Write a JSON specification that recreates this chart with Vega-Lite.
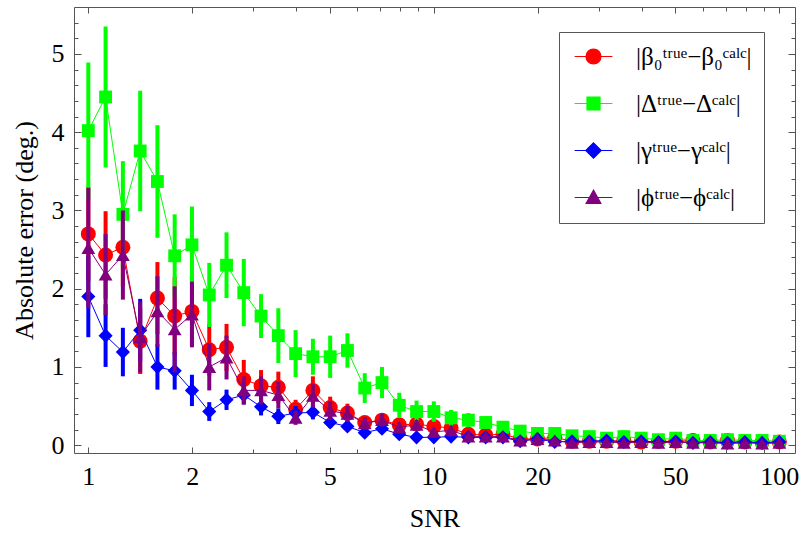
{
"$schema":"https://vega.github.io/schema/vega-lite/v6.json",
"width":721,"height":446,
"autosize":{"type":"none"},
"padding":{"left":74,"top":7,"right":11,"bottom":82},
"background":"white",
"config":{
 "view":{"stroke":"#555","strokeWidth":1},
 "font":"Liberation Serif",
 "axis":{"labelFont":"Liberation Serif","labelFontSize":26,"labelColor":"black","titleFont":"Liberation Serif","titleFontSize":26,"titleFontWeight":"normal","titleColor":"black","tickColor":"#555","tickWidth":1,"domain":false,"grid":false,"labelFlush":false,"labelOverlap":false}
},
"data":{"values":[
{"x":1,"s":"b","v":2.70,"lo":2.10,"hi":3.30},
{"x":1.122,"s":"b","v":2.43,"lo":1.87,"hi":2.99},
{"x":1.259,"s":"b","v":2.53,"lo":2.03,"hi":3.03},
{"x":1.413,"s":"b","v":1.33,"lo":0.91,"hi":1.75},
{"x":1.585,"s":"b","v":1.88,"lo":1.42,"hi":2.34},
{"x":1.778,"s":"b","v":1.65,"lo":1.15,"hi":2.15},
{"x":1.995,"s":"b","v":1.71,"lo":1.26,"hi":2.16},
{"x":2.239,"s":"b","v":1.22,"lo":0.89,"hi":1.55},
{"x":2.512,"s":"b","v":1.25,"lo":0.95,"hi":1.55},
{"x":2.818,"s":"b","v":0.84,"lo":0.59,"hi":1.09},
{"x":3.162,"s":"b","v":0.76,"lo":0.56,"hi":0.96},
{"x":3.548,"s":"b","v":0.74,"lo":0.54,"hi":0.94},
{"x":3.981,"s":"b","v":0.46,"lo":0.34,"hi":0.58},
{"x":4.467,"s":"b","v":0.70,"lo":0.52,"hi":0.88},
{"x":5.012,"s":"b","v":0.48,"lo":0.34,"hi":0.62},
{"x":5.623,"s":"b","v":0.41,"lo":0.29,"hi":0.53},
{"x":6.31,"s":"b","v":0.29,"lo":0.21,"hi":0.37},
{"x":7.079,"s":"b","v":0.32,"lo":0.23,"hi":0.41},
{"x":7.943,"s":"b","v":0.26,"lo":0.19,"hi":0.33},
{"x":8.913,"s":"b","v":0.27,"lo":0.20,"hi":0.34},
{"x":10,"s":"b","v":0.24,"lo":0.18,"hi":0.30},
{"x":11.22,"s":"b","v":0.22,"lo":0.17,"hi":0.27},
{"x":12.59,"s":"b","v":0.14,"lo":0.10,"hi":0.18},
{"x":14.13,"s":"b","v":0.13,"lo":0.09,"hi":0.17},
{"x":15.85,"s":"b","v":0.14,"lo":0.10,"hi":0.18},
{"x":17.78,"s":"b","v":0.08,"lo":0.05,"hi":0.11},
{"x":19.95,"s":"b","v":0.08,"lo":0.05,"hi":0.11},
{"x":22.39,"s":"b","v":0.10,"lo":0.07,"hi":0.13},
{"x":25.12,"s":"b","v":0.05,"lo":0.03,"hi":0.07},
{"x":28.18,"s":"b","v":0.05,"lo":0.03,"hi":0.07},
{"x":31.62,"s":"b","v":0.05,"lo":0.03,"hi":0.07},
{"x":35.48,"s":"b","v":0.06,"lo":0.04,"hi":0.08},
{"x":39.81,"s":"b","v":0.04,"lo":0.02,"hi":0.06},
{"x":44.67,"s":"b","v":0.05,"lo":0.03,"hi":0.07},
{"x":50.12,"s":"b","v":0.05,"lo":0.03,"hi":0.07},
{"x":56.23,"s":"b","v":0.06,"lo":0.04,"hi":0.08},
{"x":63.1,"s":"b","v":0.04,"lo":0.03,"hi":0.05},
{"x":70.79,"s":"b","v":0.06,"lo":0.04,"hi":0.08},
{"x":79.43,"s":"b","v":0.04,"lo":0.03,"hi":0.05},
{"x":89.13,"s":"b","v":0.04,"lo":0.03,"hi":0.05},
{"x":100,"s":"b","v":0.04,"lo":0.03,"hi":0.05},
{"x":1,"s":"d","v":4.02,"lo":3.15,"hi":4.89},
{"x":1.122,"s":"d","v":4.45,"lo":3.55,"hi":5.35},
{"x":1.259,"s":"d","v":2.95,"lo":2.27,"hi":3.63},
{"x":1.413,"s":"d","v":3.76,"lo":2.99,"hi":4.53},
{"x":1.585,"s":"d","v":3.37,"lo":2.65,"hi":4.09},
{"x":1.778,"s":"d","v":2.42,"lo":1.89,"hi":2.95},
{"x":1.995,"s":"d","v":2.56,"lo":2.07,"hi":3.05},
{"x":2.239,"s":"d","v":1.92,"lo":1.51,"hi":2.33},
{"x":2.512,"s":"d","v":2.30,"lo":1.88,"hi":2.72},
{"x":2.818,"s":"d","v":1.95,"lo":1.52,"hi":2.38},
{"x":3.162,"s":"d","v":1.65,"lo":1.37,"hi":1.93},
{"x":3.548,"s":"d","v":1.40,"lo":1.05,"hi":1.75},
{"x":3.981,"s":"d","v":1.17,"lo":0.87,"hi":1.47},
{"x":4.467,"s":"d","v":1.13,"lo":0.90,"hi":1.36},
{"x":5.012,"s":"d","v":1.13,"lo":0.86,"hi":1.40},
{"x":5.623,"s":"d","v":1.21,"lo":0.99,"hi":1.43},
{"x":6.31,"s":"d","v":0.73,"lo":0.54,"hi":0.92},
{"x":7.079,"s":"d","v":0.80,"lo":0.60,"hi":1.00},
{"x":7.943,"s":"d","v":0.51,"lo":0.35,"hi":0.67},
{"x":8.913,"s":"d","v":0.43,"lo":0.29,"hi":0.57},
{"x":10,"s":"d","v":0.43,"lo":0.30,"hi":0.56},
{"x":11.22,"s":"d","v":0.35,"lo":0.25,"hi":0.45},
{"x":12.59,"s":"d","v":0.32,"lo":0.23,"hi":0.41},
{"x":14.13,"s":"d","v":0.29,"lo":0.21,"hi":0.37},
{"x":15.85,"s":"d","v":0.23,"lo":0.17,"hi":0.29},
{"x":17.78,"s":"d","v":0.18,"lo":0.13,"hi":0.23},
{"x":19.95,"s":"d","v":0.15,"lo":0.11,"hi":0.19},
{"x":22.39,"s":"d","v":0.15,"lo":0.11,"hi":0.19},
{"x":25.12,"s":"d","v":0.12,"lo":0.09,"hi":0.15},
{"x":28.18,"s":"d","v":0.11,"lo":0.08,"hi":0.14},
{"x":31.62,"s":"d","v":0.09,"lo":0.06,"hi":0.12},
{"x":35.48,"s":"d","v":0.11,"lo":0.08,"hi":0.14},
{"x":39.81,"s":"d","v":0.09,"lo":0.06,"hi":0.12},
{"x":44.67,"s":"d","v":0.07,"lo":0.05,"hi":0.09},
{"x":50.12,"s":"d","v":0.09,"lo":0.07,"hi":0.11},
{"x":56.23,"s":"d","v":0.06,"lo":0.04,"hi":0.08},
{"x":63.1,"s":"d","v":0.06,"lo":0.04,"hi":0.08},
{"x":70.79,"s":"d","v":0.07,"lo":0.05,"hi":0.09},
{"x":79.43,"s":"d","v":0.06,"lo":0.04,"hi":0.08},
{"x":89.13,"s":"d","v":0.06,"lo":0.04,"hi":0.08},
{"x":100,"s":"d","v":0.05,"lo":0.03,"hi":0.07},
{"x":1,"s":"g","v":1.90,"lo":1.38,"hi":2.42},
{"x":1.122,"s":"g","v":1.40,"lo":1.00,"hi":1.80},
{"x":1.259,"s":"g","v":1.19,"lo":0.88,"hi":1.50},
{"x":1.413,"s":"g","v":1.47,"lo":1.07,"hi":1.87},
{"x":1.585,"s":"g","v":1.00,"lo":0.71,"hi":1.29},
{"x":1.778,"s":"g","v":0.95,"lo":0.71,"hi":1.19},
{"x":1.995,"s":"g","v":0.70,"lo":0.50,"hi":0.90},
{"x":2.239,"s":"g","v":0.43,"lo":0.31,"hi":0.55},
{"x":2.512,"s":"g","v":0.58,"lo":0.45,"hi":0.71},
{"x":2.818,"s":"g","v":0.64,"lo":0.52,"hi":0.76},
{"x":3.162,"s":"g","v":0.49,"lo":0.38,"hi":0.60},
{"x":3.548,"s":"g","v":0.37,"lo":0.27,"hi":0.47},
{"x":3.981,"s":"g","v":0.41,"lo":0.32,"hi":0.50},
{"x":4.467,"s":"g","v":0.42,"lo":0.33,"hi":0.51},
{"x":5.012,"s":"g","v":0.29,"lo":0.22,"hi":0.36},
{"x":5.623,"s":"g","v":0.24,"lo":0.18,"hi":0.30},
{"x":6.31,"s":"g","v":0.16,"lo":0.11,"hi":0.21},
{"x":7.079,"s":"g","v":0.21,"lo":0.16,"hi":0.26},
{"x":7.943,"s":"g","v":0.14,"lo":0.10,"hi":0.18},
{"x":8.913,"s":"g","v":0.10,"lo":0.07,"hi":0.13},
{"x":10,"s":"g","v":0.10,"lo":0.07,"hi":0.13},
{"x":11.22,"s":"g","v":0.11,"lo":0.08,"hi":0.14},
{"x":12.59,"s":"g","v":0.10,"lo":0.07,"hi":0.13},
{"x":14.13,"s":"g","v":0.10,"lo":0.07,"hi":0.13},
{"x":15.85,"s":"g","v":0.10,"lo":0.07,"hi":0.13},
{"x":17.78,"s":"g","v":0.05,"lo":0.03,"hi":0.07},
{"x":19.95,"s":"g","v":0.08,"lo":0.06,"hi":0.10},
{"x":22.39,"s":"g","v":0.04,"lo":0.02,"hi":0.06},
{"x":25.12,"s":"g","v":0.05,"lo":0.03,"hi":0.07},
{"x":28.18,"s":"g","v":0.05,"lo":0.03,"hi":0.07},
{"x":31.62,"s":"g","v":0.06,"lo":0.04,"hi":0.08},
{"x":35.48,"s":"g","v":0.04,"lo":0.03,"hi":0.05},
{"x":39.81,"s":"g","v":0.05,"lo":0.04,"hi":0.06},
{"x":44.67,"s":"g","v":0.04,"lo":0.03,"hi":0.05},
{"x":50.12,"s":"g","v":0.05,"lo":0.04,"hi":0.06},
{"x":56.23,"s":"g","v":0.03,"lo":0.02,"hi":0.04},
{"x":63.1,"s":"g","v":0.04,"lo":0.03,"hi":0.05},
{"x":70.79,"s":"g","v":0.03,"lo":0.02,"hi":0.04},
{"x":79.43,"s":"g","v":0.04,"lo":0.03,"hi":0.05},
{"x":89.13,"s":"g","v":0.03,"lo":0.02,"hi":0.04},
{"x":100,"s":"g","v":0.04,"lo":0.03,"hi":0.05},
{"x":1,"s":"p","v":2.52,"lo":1.75,"hi":3.29},
{"x":1.122,"s":"p","v":2.18,"lo":1.66,"hi":2.70},
{"x":1.259,"s":"p","v":2.43,"lo":1.86,"hi":3.00},
{"x":1.413,"s":"p","v":1.38,"lo":0.93,"hi":1.83},
{"x":1.585,"s":"p","v":1.71,"lo":1.26,"hi":2.16},
{"x":1.778,"s":"p","v":1.48,"lo":0.93,"hi":2.03},
{"x":1.995,"s":"p","v":1.67,"lo":1.25,"hi":2.09},
{"x":2.239,"s":"p","v":1.00,"lo":0.70,"hi":1.30},
{"x":2.512,"s":"p","v":1.12,"lo":0.84,"hi":1.40},
{"x":2.818,"s":"p","v":0.70,"lo":0.52,"hi":0.88},
{"x":3.162,"s":"p","v":0.70,"lo":0.52,"hi":0.88},
{"x":3.548,"s":"p","v":0.64,"lo":0.47,"hi":0.81},
{"x":3.981,"s":"p","v":0.35,"lo":0.26,"hi":0.44},
{"x":4.467,"s":"p","v":0.63,"lo":0.48,"hi":0.78},
{"x":5.012,"s":"p","v":0.44,"lo":0.32,"hi":0.56},
{"x":5.623,"s":"p","v":0.40,"lo":0.30,"hi":0.50},
{"x":6.31,"s":"p","v":0.28,"lo":0.20,"hi":0.36},
{"x":7.079,"s":"p","v":0.32,"lo":0.24,"hi":0.40},
{"x":7.943,"s":"p","v":0.23,"lo":0.17,"hi":0.29},
{"x":8.913,"s":"p","v":0.26,"lo":0.20,"hi":0.32},
{"x":10,"s":"p","v":0.17,"lo":0.12,"hi":0.22},
{"x":11.22,"s":"p","v":0.19,"lo":0.14,"hi":0.24},
{"x":12.59,"s":"p","v":0.11,"lo":0.08,"hi":0.14},
{"x":14.13,"s":"p","v":0.11,"lo":0.08,"hi":0.14},
{"x":15.85,"s":"p","v":0.11,"lo":0.08,"hi":0.14},
{"x":17.78,"s":"p","v":0.06,"lo":0.04,"hi":0.08},
{"x":19.95,"s":"p","v":0.08,"lo":0.06,"hi":0.10},
{"x":22.39,"s":"p","v":0.06,"lo":0.04,"hi":0.08},
{"x":25.12,"s":"p","v":0.03,"lo":0.02,"hi":0.04},
{"x":28.18,"s":"p","v":0.04,"lo":0.03,"hi":0.05},
{"x":31.62,"s":"p","v":0.04,"lo":0.03,"hi":0.05},
{"x":35.48,"s":"p","v":0.03,"lo":0.02,"hi":0.04},
{"x":39.81,"s":"p","v":0.04,"lo":0.03,"hi":0.05},
{"x":44.67,"s":"p","v":0.03,"lo":0.02,"hi":0.04},
{"x":50.12,"s":"p","v":0.04,"lo":0.03,"hi":0.05},
{"x":56.23,"s":"p","v":0.03,"lo":0.02,"hi":0.04},
{"x":63.1,"s":"p","v":0.03,"lo":0.02,"hi":0.04},
{"x":70.79,"s":"p","v":0.02,"lo":0.01,"hi":0.03},
{"x":79.43,"s":"p","v":0.03,"lo":0.02,"hi":0.04},
{"x":89.13,"s":"p","v":0.02,"lo":0.01,"hi":0.03},
{"x":100,"s":"p","v":0.03,"lo":0.02,"hi":0.04}
]},
"layer":[
{"transform":[{"filter":"datum.s==='b'"}],"mark":{"type":"rule","strokeWidth":4},
 "encoding":{
  "x":{"field":"x","type":"quantitative","scale":{"type":"log","domain":[0.909,111],"nice":false},"axis":{"orient":"bottom","values":[1,2,5,10,20,50,100],"format":"~g","ticks":false,"tickSize":0,"labelPadding":10,"title":"SNR","titlePadding":16}},
  "y":{"field":"lo","type":"quantitative","scale":{"domain":[-0.1,5.6],"nice":false,"zero":false},"axis":{"orient":"left","values":[0,1,2,3,4,5],"ticks":false,"tickSize":0,"labelPadding":10,"title":"Absolute error (deg.)","titlePadding":14}},
  "y2":{"field":"hi"},
  "color":{"field":"s","type":"nominal","scale":{"domain":["b","d","g","p"],"range":["#ff0000","#00ff00","#0000ff","#800080"]},
   "legend":{"orient":"none","legendX":485,"legendY":25,"title":null,"padding":12,"fillColor":"white","strokeColor":"#555","symbolSize":196,"symbolOffset":10,"labelOffset":30,"rowPadding":21,"labelFont":"Liberation Serif","labelFontSize":25,"labelColor":"black",
    "labelExpr":"datum.value==='b' ? '|β₀ᵗʳᵘᵉ−β₀ᶜᵃˡᶜ|' : datum.value==='d' ? '|Δᵗʳᵘᵉ−Δᶜᵃˡᶜ|' : datum.value==='g' ? '|γᵗʳᵘᵉ−γᶜᵃˡᶜ|' : '|ϕᵗʳᵘᵉ−ϕᶜᵃˡᶜ|'",
    "encode":{"symbols":{"update":{
      "shape":{"signal":"datum.value==='b' ? 'M-2.7,0H2.7M1.07,0A1.07,1.07,0,1,1,-1.07,0A1.07,1.07,0,1,1,1.07,0Z' : datum.value==='d' ? 'M-2.7,0H2.7M-0.93,-0.93H0.93V0.93H-0.93Z' : datum.value==='g' ? 'M-2.7,0H2.7M0,-1.1L1.1,0L0,1.1L-1.1,0Z' : 'M-2.7,0H2.7M0,-1.05L1.05,0.85H-1.05Z'"},
      "fill":{"signal":"scale('color', datum.value)"},
      "stroke":{"signal":"scale('color', datum.value)"},
      "strokeWidth":{"value":1.2},
      "opacity":{"value":1}}}}}}
 }},
{"transform":[{"filter":"datum.s==='b'"}],"mark":{"type":"line","strokeWidth":1},
 "encoding":{
  "x":{"field":"x","type":"quantitative","scale":{"type":"log","domain":[0.909,111],"nice":false},"axis":{"orient":"bottom","values":[1,2,5,10,20,50,100],"labels":false,"tickSize":-6,"title":null}},
  "y":{"field":"v","type":"quantitative","scale":{"domain":[-0.1,5.6],"nice":false,"zero":false},"axis":{"orient":"left","values":[0,1,2,3,4,5],"labels":false,"tickSize":-7,"title":null}},
  "color":{"field":"s","type":"nominal","scale":{"domain":["b","d","g","p"],"range":["#ff0000","#00ff00","#0000ff","#800080"]}}
 }},
{"transform":[{"filter":"datum.s==='b'"}],"mark":{"type":"point","shape":"circle","filled":true,"opacity":1,"size":225},
 "encoding":{
  "x":{"field":"x","type":"quantitative","scale":{"type":"log","domain":[0.909,111],"nice":false},"axis":{"orient":"bottom","values":[3,4,6,7,8,9,30,40,60,70,80,90],"labels":false,"tickSize":-4,"title":null}},
  "y":{"field":"v","type":"quantitative","scale":{"domain":[-0.1,5.6],"nice":false,"zero":false},"axis":{"orient":"left","values":[0.2,0.4,0.6,0.8,1.2,1.4,1.6,1.8,2.2,2.4,2.6,2.8,3.2,3.4,3.6,3.8,4.2,4.4,4.6,4.8,5.2,5.4],"labels":false,"tickSize":-4,"title":null}},
  "color":{"field":"s","type":"nominal","scale":{"domain":["b","d","g","p"],"range":["#ff0000","#00ff00","#0000ff","#800080"]}}
 }},
{"transform":[{"filter":"datum.s==='d'"}],"mark":{"type":"rule","strokeWidth":4},
 "encoding":{
  "x":{"field":"x","type":"quantitative","scale":{"type":"log","domain":[0.909,111],"nice":false},"axis":{"orient":"top","values":[1,2,5,10,20,50,100],"labels":false,"tickSize":-6,"title":null}},
  "y":{"field":"lo","type":"quantitative","scale":{"domain":[-0.1,5.6],"nice":false,"zero":false},"axis":{"orient":"right","values":[0,1,2,3,4,5],"labels":false,"tickSize":-7,"title":null}},
  "y2":{"field":"hi"},
  "color":{"field":"s","type":"nominal","scale":{"domain":["b","d","g","p"],"range":["#ff0000","#00ff00","#0000ff","#800080"]}}
 }},
{"transform":[{"filter":"datum.s==='d'"}],"mark":{"type":"line","strokeWidth":1},
 "encoding":{
  "x":{"field":"x","type":"quantitative","scale":{"type":"log","domain":[0.909,111],"nice":false},"axis":{"orient":"top","values":[3,4,6,7,8,9,30,40,60,70,80,90],"labels":false,"tickSize":-4,"title":null}},
  "y":{"field":"v","type":"quantitative","scale":{"domain":[-0.1,5.6],"nice":false,"zero":false},"axis":{"orient":"right","values":[0.2,0.4,0.6,0.8,1.2,1.4,1.6,1.8,2.2,2.4,2.6,2.8,3.2,3.4,3.6,3.8,4.2,4.4,4.6,4.8,5.2,5.4],"labels":false,"tickSize":-4,"title":null}},
  "color":{"field":"s","type":"nominal","scale":{"domain":["b","d","g","p"],"range":["#ff0000","#00ff00","#0000ff","#800080"]}}
 }},
{"transform":[{"filter":"datum.s==='d'"}],"mark":{"type":"point","shape":"square","filled":true,"opacity":1,"size":165},
 "encoding":{
  "x":{"field":"x","type":"quantitative","scale":{"type":"log","domain":[0.909,111],"nice":false},"axis":null},
  "y":{"field":"v","type":"quantitative","scale":{"domain":[-0.1,5.6],"nice":false,"zero":false},"axis":null},
  "color":{"field":"s","type":"nominal","scale":{"domain":["b","d","g","p"],"range":["#ff0000","#00ff00","#0000ff","#800080"]}}
 }},
{"transform":[{"filter":"datum.s==='g'"}],"mark":{"type":"rule","strokeWidth":4},
 "encoding":{
  "x":{"field":"x","type":"quantitative","scale":{"type":"log","domain":[0.909,111],"nice":false},"axis":null},
  "y":{"field":"lo","type":"quantitative","scale":{"domain":[-0.1,5.6],"nice":false,"zero":false},"axis":null},
  "y2":{"field":"hi"},
  "color":{"field":"s","type":"nominal","scale":{"domain":["b","d","g","p"],"range":["#ff0000","#00ff00","#0000ff","#800080"]}}
 }},
{"transform":[{"filter":"datum.s==='g'"}],"mark":{"type":"line","strokeWidth":1},
 "encoding":{
  "x":{"field":"x","type":"quantitative","scale":{"type":"log","domain":[0.909,111],"nice":false},"axis":null},
  "y":{"field":"v","type":"quantitative","scale":{"domain":[-0.1,5.6],"nice":false,"zero":false},"axis":null},
  "color":{"field":"s","type":"nominal","scale":{"domain":["b","d","g","p"],"range":["#ff0000","#00ff00","#0000ff","#800080"]}}
 }},
{"transform":[{"filter":"datum.s==='g'"}],"mark":{"type":"point","shape":"diamond","filled":true,"opacity":1,"size":200},
 "encoding":{
  "x":{"field":"x","type":"quantitative","scale":{"type":"log","domain":[0.909,111],"nice":false},"axis":null},
  "y":{"field":"v","type":"quantitative","scale":{"domain":[-0.1,5.6],"nice":false,"zero":false},"axis":null},
  "color":{"field":"s","type":"nominal","scale":{"domain":["b","d","g","p"],"range":["#ff0000","#00ff00","#0000ff","#800080"]}}
 }},
{"transform":[{"filter":"datum.s==='p'"}],"mark":{"type":"rule","strokeWidth":4},
 "encoding":{
  "x":{"field":"x","type":"quantitative","scale":{"type":"log","domain":[0.909,111],"nice":false},"axis":null},
  "y":{"field":"lo","type":"quantitative","scale":{"domain":[-0.1,5.6],"nice":false,"zero":false},"axis":null},
  "y2":{"field":"hi"},
  "color":{"field":"s","type":"nominal","scale":{"domain":["b","d","g","p"],"range":["#ff0000","#00ff00","#0000ff","#800080"]}}
 }},
{"transform":[{"filter":"datum.s==='p'"}],"mark":{"type":"line","strokeWidth":1},
 "encoding":{
  "x":{"field":"x","type":"quantitative","scale":{"type":"log","domain":[0.909,111],"nice":false},"axis":null},
  "y":{"field":"v","type":"quantitative","scale":{"domain":[-0.1,5.6],"nice":false,"zero":false},"axis":null},
  "color":{"field":"s","type":"nominal","scale":{"domain":["b","d","g","p"],"range":["#ff0000","#00ff00","#0000ff","#800080"]}}
 }},
{"transform":[{"filter":"datum.s==='p'"}],"mark":{"type":"point","shape":"triangle-up","filled":true,"opacity":1,"size":190},
 "encoding":{
  "x":{"field":"x","type":"quantitative","scale":{"type":"log","domain":[0.909,111],"nice":false},"axis":null},
  "y":{"field":"v","type":"quantitative","scale":{"domain":[-0.1,5.6],"nice":false,"zero":false},"axis":null},
  "color":{"field":"s","type":"nominal","scale":{"domain":["b","d","g","p"],"range":["#ff0000","#00ff00","#0000ff","#800080"]}}
 }}
],
"resolve":{"axis":{"x":"independent","y":"independent"}}
}
